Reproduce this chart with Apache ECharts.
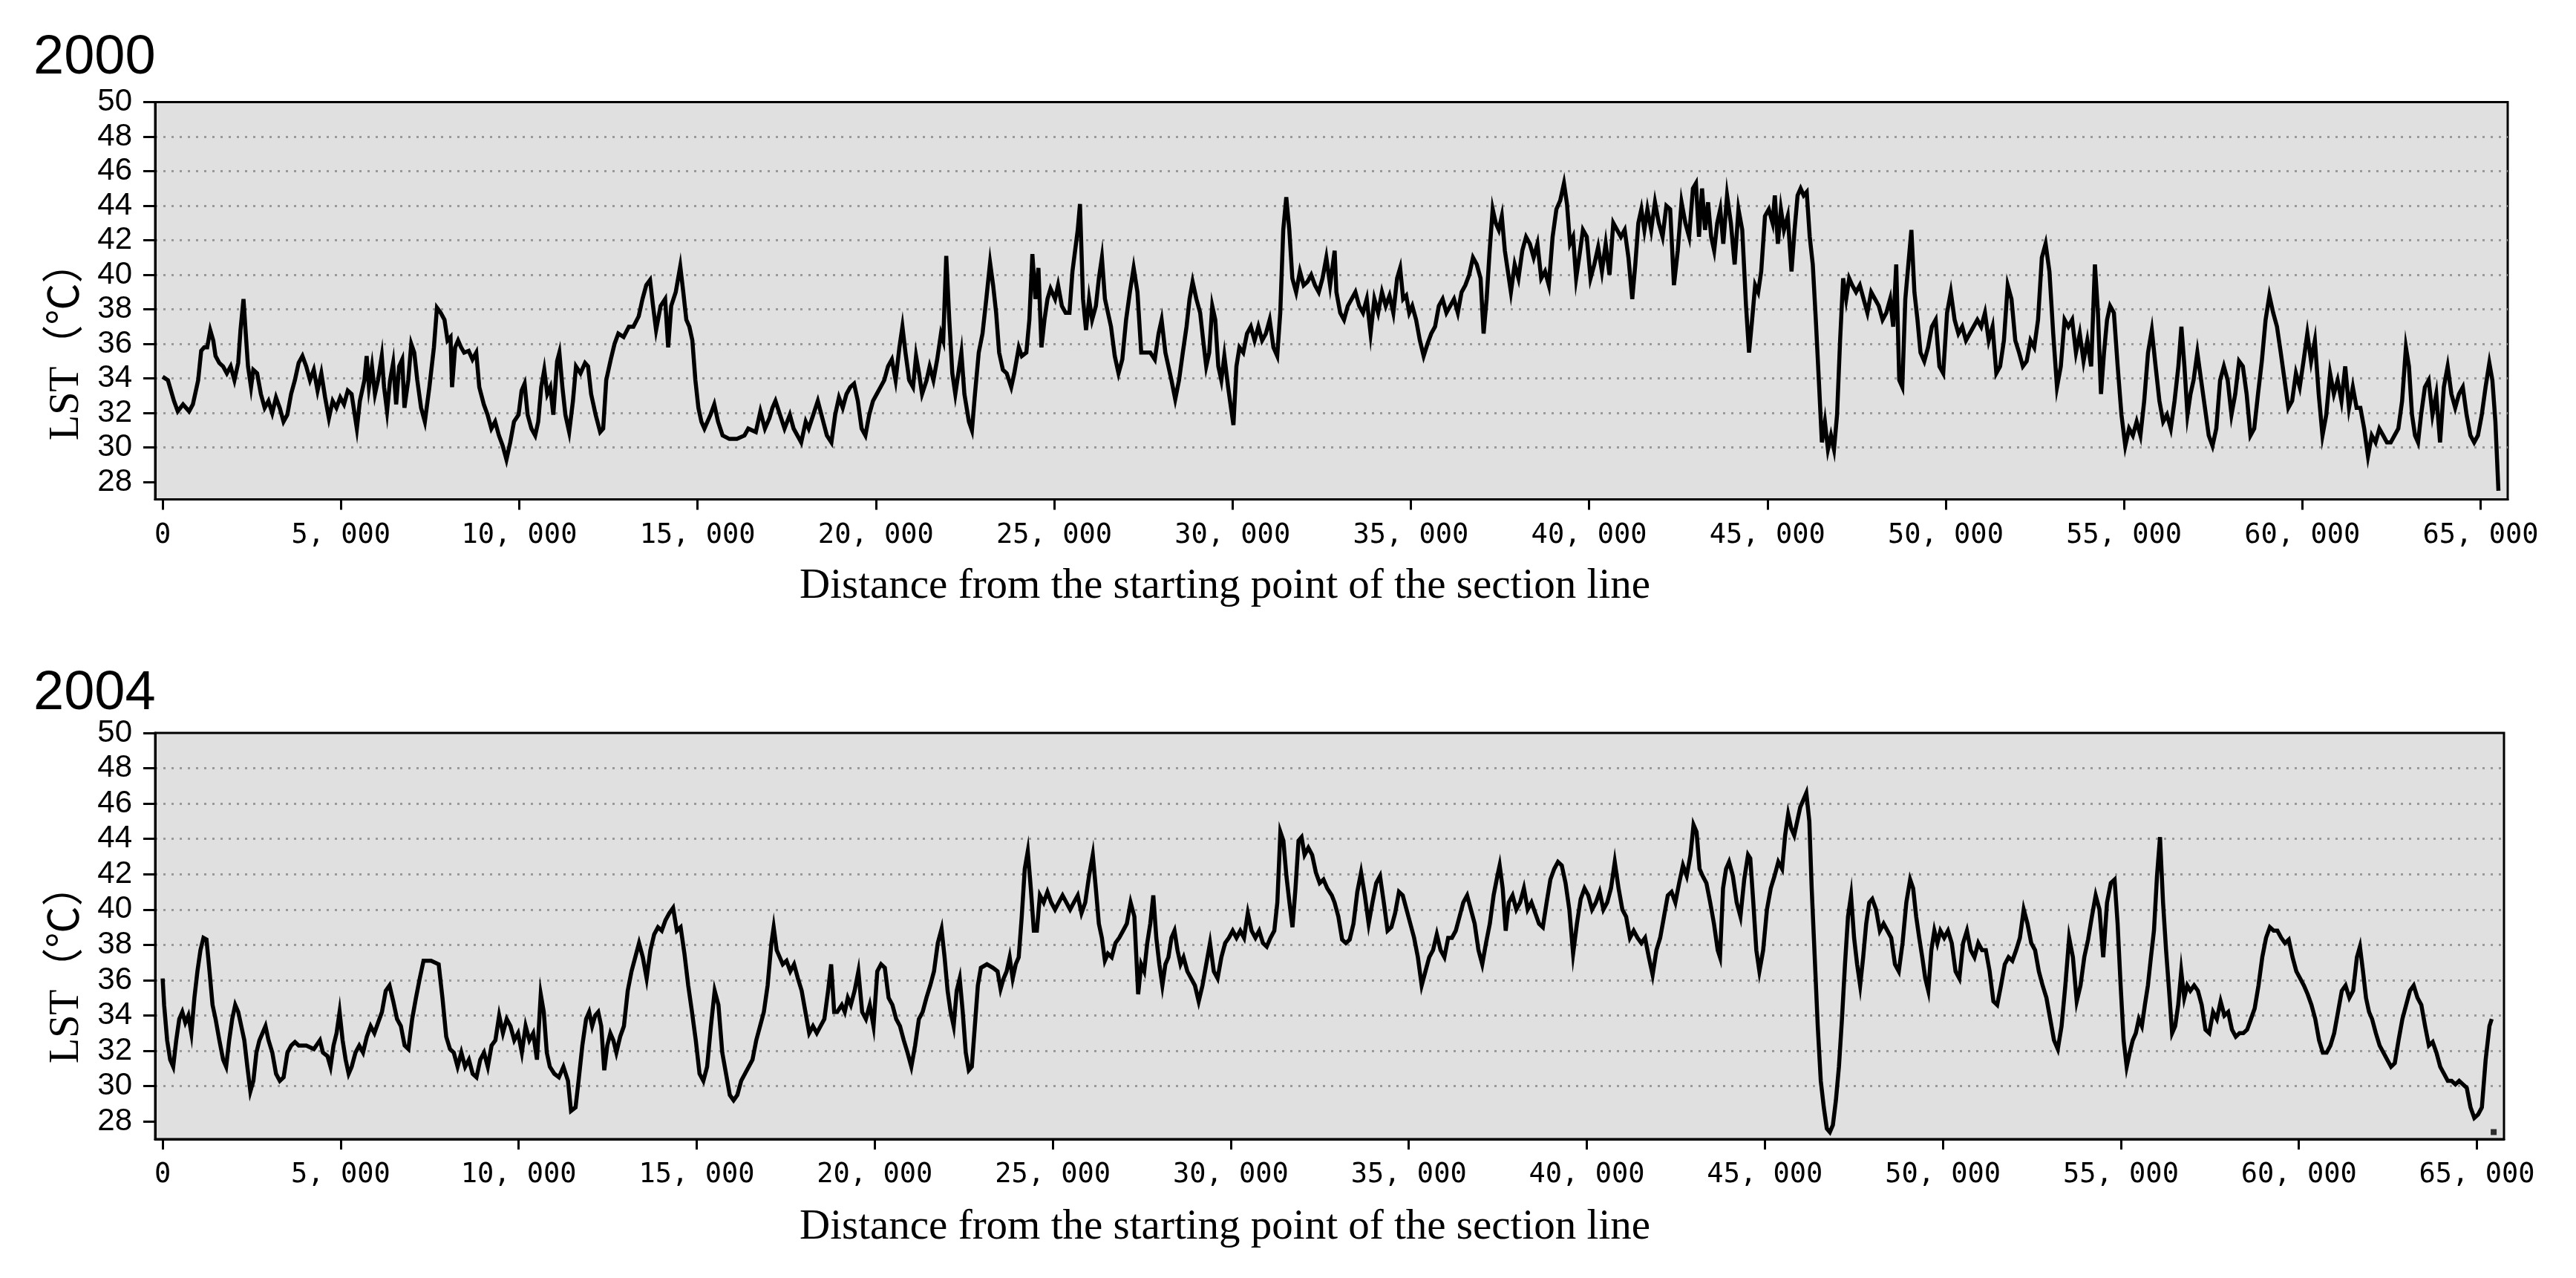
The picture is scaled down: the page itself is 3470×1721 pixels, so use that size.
<!DOCTYPE html>
<html>
<head>
<meta charset="utf-8">
<script src="https://cdn.jsdelivr.net/npm/echarts@6.0.0/dist/echarts.min.js"></script>
<style>
  html, body { margin: 0; padding: 0; background: #ffffff; }
  #chart { width: 3470px; height: 1721px; }
</style>
</head>
<body>
<div id="chart"></div>
<script>
// ---------- DATA ----------
const panelYears = ['2000', '2004'];
const xTicks = [0, 5000, 10000, 15000, 20000, 25000, 30000, 35000, 40000, 45000, 50000, 55000, 60000, 65000];
const yTicks = [28, 30, 32, 34, 36, 38, 40, 42, 44, 46, 48, 50];
const yTitle = 'LST\uFF08\u2103\uFF09';
const xTitle = 'Distance from the starting point of the section line';

// [distance (m), LST (°C)] read from the 2000 profile
const lst2000 = [
[0,34.1],[148,33.9],[318,32.7],[424,32.1],[572,32.5],[742,32.1],[848,32.5],[996,33.9],[1081,35.6],[1165,35.8],[1250,35.8],[1335,36.8],[1420,36.2],[1483,35.3],[1589,34.9],[1695,34.7],[1801,34.3],[1907,34.7],[2013,33.9],[2119,34.9],[2183,36.8],[2267,38.6],[2331,36.6],[2394,34.7],[2479,33.5],[2543,34.5],[2649,34.3],[2755,33.1],[2861,32.3],[2967,32.7],[3073,32.0],[3179,32.9],[3284,32.3],[3390,31.5],[3496,31.9],[3602,33.1],[3708,33.9],[3814,34.9],[3920,35.3],[4026,34.7],[4132,33.9],[4238,34.5],[4344,33.3],[4450,34.3],[4556,32.9],[4662,31.7],[4768,32.7],[4874,32.3],[4980,32.9],[5086,32.5],[5192,33.3],[5298,33.1],[5446,31.1],[5531,32.7],[5658,33.9],[5721,35.3],[5785,33.5],[5870,34.7],[5954,33.1],[6039,33.9],[6145,35.3],[6209,33.5],[6293,32.1],[6378,33.9],[6463,34.9],[6548,32.5],[6632,34.7],[6717,35.1],[6781,32.3],[6887,33.9],[6972,36.0],[7056,35.5],[7141,33.9],[7247,32.3],[7353,31.5],[7480,33.5],[7607,35.8],[7692,38.1],[7798,37.8],[7904,37.4],[7989,36.2],[8073,36.4],[8116,33.5],[8201,35.8],[8285,36.2],[8370,35.8],[8455,35.5],[8582,35.6],[8688,35.1],[8794,35.5],[8879,33.5],[9006,32.5],[9112,31.9],[9218,31.1],[9324,31.5],[9430,30.7],[9536,30.1],[9641,29.3],[9747,30.3],[9853,31.5],[9981,31.9],[10066,33.3],[10150,33.7],[10235,31.9],[10341,31.1],[10447,30.7],[10532,31.5],[10616,33.5],[10701,34.5],[10786,33.1],[10871,33.5],[10955,31.9],[11061,35.0],[11125,35.5],[11210,33.5],[11294,31.9],[11400,30.9],[11506,32.7],[11591,34.7],[11718,34.3],[11845,34.9],[11930,34.7],[12015,33.1],[12142,31.9],[12269,30.9],[12354,31.1],[12439,33.9],[12566,35.1],[12672,36.0],[12778,36.6],[12926,36.4],[13074,37.0],[13201,37.0],[13350,37.6],[13456,38.6],[13562,39.4],[13668,39.7],[13752,38.2],[13837,36.8],[13964,38.2],[14091,38.6],[14176,35.8],[14261,38.2],[14388,39.0],[14515,40.5],[14600,39.0],[14685,37.4],[14770,37.0],[14854,36.2],[14939,33.9],[15024,32.3],[15108,31.5],[15193,31.1],[15363,31.9],[15469,32.5],[15575,31.5],[15702,30.7],[15892,30.5],[16104,30.5],[16316,30.7],[16422,31.1],[16634,30.9],[16762,32.1],[16889,31.1],[17016,31.7],[17100,32.3],[17185,32.7],[17312,31.9],[17439,31.1],[17588,31.9],[17694,31.1],[17800,30.7],[17906,30.3],[18033,31.5],[18117,31.1],[18244,31.9],[18372,32.7],[18499,31.7],[18626,30.7],[18753,30.3],[18859,31.9],[18965,32.9],[19071,32.3],[19177,33.1],[19283,33.5],[19389,33.7],[19495,32.7],[19601,31.1],[19707,30.7],[19813,31.9],[19919,32.7],[20025,33.1],[20131,33.5],[20236,33.9],[20342,34.7],[20448,35.1],[20554,33.9],[20660,35.8],[20745,37.0],[20830,35.5],[20936,33.9],[21042,33.5],[21127,35.3],[21211,34.3],[21296,33.1],[21423,33.9],[21508,34.7],[21614,33.9],[21720,35.1],[21826,36.6],[21889,36.2],[21974,41.1],[22059,37.4],[22144,34.3],[22228,33.1],[22313,34.3],[22398,35.5],[22483,33.1],[22610,31.5],[22694,31.0],[22779,33.1],[22885,35.5],[22991,36.6],[23097,38.6],[23203,40.7],[23288,39.4],[23373,37.8],[23457,35.5],[23563,34.5],[23669,34.3],[23796,33.5],[23881,34.3],[24008,35.8],[24093,35.3],[24220,35.5],[24305,37.4],[24389,41.2],[24474,38.6],[24559,40.4],[24644,35.8],[24728,37.4],[24813,38.6],[24898,39.2],[25025,38.6],[25110,39.4],[25216,38.2],[25322,37.8],[25428,37.8],[25513,40.2],[25661,42.6],[25724,44.1],[25809,38.6],[25894,36.8],[25979,38.6],[26064,37.4],[26170,38.2],[26254,39.8],[26339,41.0],[26424,38.6],[26509,37.8],[26594,37.0],[26699,35.3],[26805,34.3],[26911,35.1],[27017,37.4],[27123,39.0],[27229,40.4],[27335,39.0],[27441,35.5],[27568,35.5],[27695,35.5],[27822,35.1],[27928,36.6],[28013,37.4],[28119,35.5],[28204,34.7],[28289,33.9],[28395,32.8],[28501,33.9],[28607,35.5],[28712,37.0],[28797,38.6],[28882,39.6],[28988,38.6],[29094,37.8],[29179,36.2],[29264,34.7],[29348,35.5],[29433,38.2],[29518,37.4],[29603,34.7],[29688,33.9],[29772,35.3],[29878,33.5],[30027,31.3],[30111,34.7],[30196,35.8],[30302,35.5],[30408,36.6],[30514,37.0],[30620,36.2],[30726,37.0],[30831,36.2],[30937,36.6],[31043,37.4],[31149,35.8],[31255,35.3],[31340,37.8],[31424,42.6],[31509,44.5],[31594,42.6],[31679,39.8],[31785,39.0],[31891,40.2],[31997,39.4],[32103,39.6],[32208,40.0],[32314,39.4],[32420,39.0],[32526,39.8],[32632,41.0],[32738,39.4],[32865,41.4],
[32915,39.0],[33022,37.8],[33128,37.4],[33234,38.2],[33341,38.6],[33447,39.0],[33554,38.2],[33660,37.8],[33766,38.6],[33873,36.6],[33979,38.6],[34085,37.8],[34192,39.0],[34298,38.2],[34404,38.8],[34511,37.8],[34617,39.8],[34702,40.4],[34787,38.6],[34872,38.8],[34957,37.8],[35042,38.2],[35149,37.4],[35255,36.2],[35361,35.3],[35468,36.0],[35574,36.6],[35681,37.0],[35787,38.2],[35893,38.6],[36000,37.8],[36106,38.2],[36212,38.6],[36319,37.8],[36425,39.0],[36531,39.4],[36638,40.0],[36744,41.0],[36850,40.6],[36957,39.8],[37042,36.6],[37127,38.6],[37212,41.4],[37297,43.8],[37383,43.0],[37468,42.6],[37553,43.4],[37638,41.4],[37723,40.2],[37808,39.0],[37914,40.6],[38020,39.8],[38127,41.4],[38233,42.2],[38339,41.8],[38446,41.0],[38552,41.8],[38658,39.8],[38765,40.2],[38871,39.4],[38977,42.2],[39084,43.8],[39190,44.3],[39296,45.3],[39381,44.1],[39466,41.8],[39552,42.2],[39637,39.8],[39722,41.0],[39828,42.6],[39935,42.2],[40041,39.8],[40147,40.6],[40254,41.6],[40360,40.2],[40466,41.8],[40573,40.0],[40679,43.0],[40785,42.6],[40892,42.2],[40998,42.6],[41104,41.0],[41211,38.6],[41296,40.6],[41381,43.0],[41466,43.8],[41551,42.6],[41636,43.8],[41742,42.6],[41848,44.2],[41955,43.0],[42061,42.2],[42168,44.0],[42274,43.8],[42380,39.4],[42487,41.4],[42593,44.2],[42700,43.0],[42806,42.2],[42912,45.0],[42997,45.3],[43082,42.2],[43167,45.0],[43252,42.6],[43337,44.2],[43423,42.2],[43508,41.4],[43593,43.0],[43678,43.8],[43763,41.8],[43869,44.6],[43976,43.0],[44082,40.6],[44189,43.8],[44295,42.6],[44401,38.2],[44486,35.5],[44572,37.4],[44657,39.4],[44742,39.0],[44827,40.2],[44933,43.4],[45040,43.8],[45146,43.0],[45209,44.6],[45294,41.8],[45379,43.8],[45465,42.6],[45571,43.4],[45677,40.2],[45762,42.6],[45847,44.6],[45932,45.0],[46018,44.6],[46103,44.8],[46188,42.2],[46273,40.6],[46358,37.4],[46443,33.9],[46528,30.3],[46613,31.5],[46698,29.9],[46783,30.7],[46868,29.9],[46954,31.9],[47039,36.2],[47124,39.8],[47209,38.6],[47294,39.8],[47379,39.4],[47486,39.0],[47592,39.4],[47698,38.6],[47805,37.8],[47911,39.0],[48017,38.6],[48124,38.2],[48230,37.4],[48336,37.8],[48443,38.6],[48528,37.0],[48613,40.6],[48698,33.9],[48783,33.5],[48868,38.6],[48953,40.6],[49038,42.6],[49123,39.0],[49209,37.4],[49294,35.5],[49400,35.0],[49506,35.8],[49612,37.0],[49719,37.4],[49825,34.7],[49931,34.3],[50038,37.8],[50144,39.0],[50250,37.4],[50357,36.6],[50463,37.0],[50569,36.2],[50676,36.6],[50782,37.0],[50888,37.4],[50995,37.0],[51101,37.8],[51207,36.2],[51314,37.0],[51420,34.3],[51526,34.7],[51633,36.2],[51739,39.4],[51845,38.6],[51952,36.2],[52058,35.5],[52164,34.7],[52271,35.0],[52377,36.2],[52483,35.8],[52590,37.4],[52696,41.0],[52802,41.8],[52909,40.2],[53015,36.6],[53121,33.5],[53228,34.7],[53334,37.4],[53440,37.0],[53547,37.4],[53653,35.5],[53760,36.6],[53866,35.0],[53972,36.2],[54079,34.7],[54185,40.6],[54270,37.8],[54355,33.1],[54440,35.5],[54525,37.4],[54610,38.2],[54717,37.8],[54823,34.7],[54929,31.9],[55036,30.1],[55142,31.1],[55248,30.7],[55355,31.5],[55461,30.7],[55567,32.7],[55674,35.5],[55780,36.8],[55887,34.7],[55993,32.7],[56099,31.5],[56206,31.9],[56312,31.1],[56418,32.7],[56525,34.7],[56610,37.0],[56695,34.7],[56780,31.9],[56865,33.1],[56951,33.9],[57057,35.5],[57163,33.9],[57270,32.3],[57376,30.7],[57482,30.1],[57589,31.1],[57695,33.9],[57801,34.7],[57908,33.9],[58014,31.9],[58120,33.1],[58227,35.0],[58333,34.7],[58439,33.1],[58546,30.7],[58652,31.1],[58758,33.1],[58865,35.0],[58971,37.4],[59077,38.8],[59184,37.8],[59290,37.0],[59396,35.5],[59503,33.9],[59609,32.3],[59715,32.7],[59822,34.3],[59928,33.5],[60034,35.0],[60141,36.6],[60247,35.0],[60353,36.2],[60460,33.1],[60566,30.7],[60672,31.9],[60779,34.3],[60885,33.1],[60991,33.9],[61098,32.7],[61204,34.7],[61310,32.3],[61417,33.5],[61523,32.3],[61629,32.3],[61736,31.1],[61842,29.5],[61948,30.7],[62055,30.3],[62161,31.1],[62268,30.7],[62374,30.3],[62480,30.3],[62587,30.7],[62693,31.1],[62799,32.7],[62906,35.8],[62991,34.7],[63076,31.9],[63161,30.7],[63246,30.3],[63331,31.9],[63438,33.5],[63544,33.9],[63650,31.9],[63757,33.1],[63863,30.3],[63969,33.5],[64076,34.7],[64182,33.1],[64288,32.3],[64395,33.1],[64501,33.5],[64607,31.9],[64714,30.7],[64820,30.3],[64926,30.7],[65033,31.9],[65139,33.5],[65245,34.9],[65330,33.9],[65415,31.5],[65500,27.5]
];

// [distance (m), LST (°C)] read from the 2004 profile
const lst2004 = [
[0,36.1],[42,34.6],[127,32.6],[212,31.5],[297,31.1],[382,32.6],[467,33.8],[552,34.2],[637,33.6],[722,34.0],[807,33.0],[892,35.0],[977,36.5],[1062,37.7],[1147,38.4],[1232,38.3],[1317,36.5],[1402,34.6],[1487,33.8],[1593,32.6],[1699,31.5],[1784,31.1],[1869,32.6],[1954,33.8],[2039,34.6],[2124,34.2],[2209,33.4],[2294,32.6],[2379,31.1],[2464,29.7],[2549,30.3],[2634,31.9],[2719,32.6],[2804,33.0],[2889,33.4],[2974,32.6],[3080,31.9],[3186,30.7],[3292,30.3],[3398,30.5],[3505,31.9],[3611,32.3],[3717,32.5],[3823,32.3],[4036,32.3],[4248,32.1],[4418,32.6],[4503,31.9],[4630,31.7],[4715,31.1],[4800,32.3],[4885,33.0],[4970,34.2],[5055,32.6],[5140,31.5],[5225,30.7],[5310,31.1],[5416,31.9],[5522,32.3],[5629,31.9],[5735,32.8],[5841,33.4],[5947,33.0],[6053,33.6],[6160,34.2],[6266,35.4],[6372,35.7],[6478,34.8],[6584,33.8],[6691,33.4],[6797,32.3],[6903,32.1],[7009,33.8],[7115,35.0],[7222,36.1],[7328,37.1],[7540,37.1],[7753,36.9],[7859,35.0],[7965,32.8],[8071,32.1],[8177,31.9],[8284,31.1],[8390,31.9],[8496,31.1],[8602,31.5],[8708,30.7],[8815,30.5],[8921,31.5],[9027,31.9],[9133,31.1],[9239,32.3],[9346,32.6],[9452,34.0],[9558,33.0],[9664,33.8],[9770,33.4],[9876,32.6],[9983,33.0],[10089,31.9],[10195,33.4],[10301,32.6],[10408,33.0],[10514,31.5],[10620,35.2],[10705,34.2],[10790,31.9],[10875,31.1],[11002,30.7],[11130,30.5],[11257,31.1],[11385,30.3],[11470,28.6],[11597,28.8],[11682,30.3],[11788,32.3],[11894,33.8],[11979,34.2],[12064,33.4],[12149,34.0],[12234,34.2],[12319,33.4],[12404,30.9],[12489,32.3],[12574,33.0],[12659,32.6],[12744,31.9],[12850,32.8],[12956,33.4],[13063,35.4],[13169,36.5],[13275,37.3],[13381,38.1],[13487,37.3],[13594,36.1],[13700,37.7],[13806,38.6],[13912,39.0],[14018,38.8],[14124,39.4],[14231,39.8],[14337,40.1],[14443,38.8],[14549,39.0],[14656,37.5],[14762,35.7],[14868,34.2],[14974,32.6],[15080,30.7],[15187,30.3],[15293,31.1],[15399,33.4],[15505,35.4],[15611,34.6],[15718,31.9],[15824,30.7],[15930,29.5],[16036,29.2],[16142,29.5],[16249,30.3],[16355,30.7],[16461,31.1],[16567,31.5],[16673,32.6],[16780,33.4],[16886,34.2],[16992,35.7],[17098,38.1],[17162,39.0],[17247,37.7],[17332,37.3],[17417,36.9],[17523,37.1],[17629,36.5],[17735,36.9],[17842,36.1],[17948,35.4],[18054,34.2],[18160,33.0],[18266,33.4],[18373,33.0],[18479,33.4],[18585,33.8],[18691,35.4],[18776,36.9],[18861,34.2],[18946,34.2],[19074,34.6],[19159,34.2],[19244,35.0],[19329,34.6],[19435,35.4],[19541,36.5],[19647,34.2],[19753,33.8],[19860,34.6],[19966,33.4],[20072,36.5],[20178,36.9],[20284,36.7],[20390,35.0],[20497,34.6],[20603,33.8],[20709,33.4],[20815,32.6],[20921,31.9],[21028,31.1],[21134,32.3],[21240,33.8],[21346,34.2],[21452,35.0],[21559,35.7],[21665,36.5],[21771,38.1],[21877,38.9],[21962,37.3],[22047,35.4],[22132,34.2],[22217,33.4],[22302,35.4],[22387,36.1],[22472,34.2],[22557,31.9],[22642,30.9],[22727,31.1],[22812,33.4],[22897,35.7],[22982,36.7],[23152,36.9],[23322,36.7],[23450,36.5],[23535,35.5],[23620,36.1],[23705,36.5],[23790,37.3],[23875,36.1],[23960,36.9],[24044,37.3],[24129,39.6],[24214,42.3],[24299,43.3],[24384,41.2],[24469,38.8],[24554,38.8],[24639,40.8],[24745,40.4],[24851,41.0],[24958,40.4],[25064,40.0],[25170,40.4],[25276,40.8],[25382,40.4],[25488,40.0],[25594,40.4],[25701,40.8],[25807,39.8],[25913,40.4],[26019,41.9],[26125,43.1],[26210,41.2],[26295,39.2],[26380,38.4],[26465,37.1],[26550,37.5],[26656,37.3],[26762,38.1],[26868,38.4],[26975,38.8],[27081,39.2],[27187,40.4],[27293,39.6],[27399,35.2],[27484,36.9],[27569,36.5],[27654,38.1],[27739,39.2],[27824,40.8],[27909,38.4],[27994,36.9],[28079,35.7],[28164,36.9],[28249,37.3],[28334,38.4],[28419,38.8],[28504,37.7],[28589,36.9],[28674,37.3],[28780,36.5],[28886,36.1],[28993,35.7],[29099,34.8],[29205,35.7],[29311,36.9],[29417,38.1],[29524,36.5],[29630,36.1],[29736,37.3],[29842,38.1],[29948,38.4],[30054,38.8],[30161,38.4],[30267,38.8],[30373,38.4],[30479,39.8],[30585,38.8],[30692,38.4],[30798,38.8],[30904,38.1],[31010,37.9],[31116,38.4],[31223,38.8],[31308,40.4],[31393,44.4],[31478,43.9],[31563,41.9],[31648,40.4],[31733,39.0],[31818,41.2],[31903,43.9],[31988,44.1],[32073,43.1],[32179,43.5],[32285,43.1],[32391,42.1],[32497,41.5],[32604,41.7],[32710,41.2],[32837,40.8],
[32915,40.4],[33022,39.6],[33128,38.3],[33234,38.1],[33341,38.3],[33447,39.2],[33554,41.0],[33660,42.1],[33766,40.8],[33873,39.2],[33979,40.4],[34085,41.5],[34192,41.9],[34298,40.4],[34404,38.8],[34511,39.0],[34617,39.8],[34724,41.0],[34830,40.8],[34936,40.0],[35043,39.2],[35149,38.4],[35255,37.3],[35362,35.7],[35468,36.5],[35574,37.3],[35681,37.7],[35787,38.6],[35893,37.7],[36000,37.3],[36106,38.4],[36212,38.4],[36319,38.8],[36425,39.6],[36531,40.4],[36638,40.8],[36744,40.0],[36850,39.2],[36957,37.7],[37063,36.9],[37169,38.1],[37276,39.2],[37382,40.8],[37488,41.9],[37552,42.5],[37637,41.2],[37722,38.8],[37808,40.4],[37914,40.8],[38020,40.0],[38127,40.4],[38233,41.2],[38339,40.0],[38446,40.4],[38552,39.8],[38658,39.2],[38765,39.0],[38871,40.4],[38977,41.7],[39084,42.3],[39190,42.7],[39296,42.5],[39403,41.5],[39509,40.0],[39615,37.5],[39722,39.2],[39828,40.6],[39935,41.2],[40041,40.8],[40147,40.0],[40254,40.4],[40360,41.0],[40466,40.0],[40573,40.4],[40679,41.2],[40785,42.7],[40892,41.2],[40998,40.0],[41104,39.6],[41211,38.4],[41317,38.8],[41423,38.4],[41530,38.1],[41636,38.4],[41742,37.3],[41848,36.3],[41955,37.7],[42061,38.4],[42168,39.6],[42274,40.8],[42380,41.0],[42487,40.4],[42593,41.5],[42700,42.5],[42806,41.9],[42912,43.1],[42997,44.8],[43082,44.4],[43167,42.3],[43253,41.9],[43359,41.5],[43465,40.4],[43571,39.2],[43677,37.7],[43741,37.3],[43826,41.2],[43911,42.3],[43996,42.7],[44102,41.9],[44209,40.4],[44315,39.6],[44421,41.7],[44528,43.1],[44591,42.9],[44676,40.4],[44761,37.7],[44847,36.5],[44953,37.7],[45059,40.0],[45166,41.2],[45272,41.9],[45378,42.7],[45485,42.3],[45570,44.2],[45655,45.4],[45740,44.6],[45825,44.2],[45910,45.0],[45995,45.8],[46080,46.2],[46165,46.6],[46250,45.0],[46316,41.2],[46401,37.3],[46486,33.4],[46571,30.3],[46656,28.8],[46741,27.6],[46826,27.4],[46911,27.8],[46996,29.2],[47081,31.1],[47166,33.8],[47251,36.9],[47336,39.6],[47422,40.8],[47507,38.4],[47592,36.9],[47677,35.7],[47762,37.3],[47847,39.2],[47932,40.4],[48017,40.6],[48124,40.0],[48230,38.8],[48336,39.2],[48443,38.8],[48549,38.4],[48655,36.9],[48762,36.5],[48868,38.1],[48974,40.4],[49081,41.7],[49166,41.2],[49251,39.6],[49336,38.4],[49421,37.3],[49506,36.1],[49591,35.4],[49676,37.7],[49761,38.8],[49846,38.1],[49931,38.8],[50038,38.4],[50144,38.8],[50250,38.1],[50357,36.5],[50463,36.1],[50569,38.1],[50676,38.8],[50782,37.7],[50888,37.3],[50995,38.1],[51101,37.7],[51207,37.7],[51314,36.5],[51420,34.8],[51526,34.6],[51633,35.7],[51739,36.9],[51845,37.3],[51952,37.1],[52058,37.7],[52164,38.4],[52271,40.0],[52377,39.2],[52483,38.1],[52590,37.7],[52696,36.5],[52802,35.7],[52909,35.0],[53015,33.8],[53121,32.6],[53228,32.1],[53334,33.4],[53440,35.7],[53547,38.4],[53653,37.3],[53760,34.8],[53866,35.7],[53972,37.3],[54079,38.3],[54185,39.6],[54292,40.8],[54398,40.0],[54504,37.3],[54611,40.4],[54717,41.5],[54823,41.7],[54908,39.2],[54993,35.7],[55078,32.6],[55163,31.1],[55248,31.9],[55333,32.6],[55419,33.0],[55504,33.8],[55589,33.4],[55674,34.6],[55759,35.7],[55844,37.3],[55929,38.8],[56014,41.9],[56099,44.1],[56184,40.4],[56269,37.7],[56354,35.4],[56439,33.0],[56525,33.4],[56610,34.6],[56695,36.5],[56780,35.0],[56865,35.7],[56951,35.4],[57057,35.7],[57163,35.4],[57270,34.6],[57376,33.2],[57482,33.0],[57589,34.2],[57695,33.8],[57801,34.8],[57908,34.0],[58014,34.2],[58120,33.2],[58227,32.8],[58333,33.0],[58439,33.0],[58546,33.2],[58652,33.8],[58758,34.4],[58865,35.7],[58971,37.3],[59077,38.4],[59184,39.0],[59290,38.8],[59396,38.8],[59503,38.4],[59609,38.1],[59715,38.3],[59822,37.3],[59928,36.5],[60034,36.1],[60141,35.7],[60247,35.2],[60353,34.6],[60460,33.8],[60566,32.6],[60672,31.9],[60779,31.9],[60885,32.3],[60991,33.0],[61098,34.2],[61204,35.4],[61310,35.7],[61417,35.0],[61523,35.4],[61629,37.3],[61714,37.9],[61800,36.5],[61885,35.0],[61970,34.2],[62055,33.8],[62161,33.0],[62268,32.3],[62374,31.9],[62480,31.5],[62587,31.1],[62693,31.3],[62799,32.6],[62906,33.8],[63012,34.6],[63118,35.4],[63224,35.7],[63331,35.0],[63438,34.6],[63544,33.4],[63650,32.3],[63757,32.5],[63863,31.9],[63969,31.1],[64076,30.7],[64182,30.3],[64288,30.3],[64395,30.1],[64501,30.3],[64607,30.1],[64714,29.9],[64820,28.8],[64926,28.2],[65033,28.4],[65139,28.8],[65245,31.5],[65352,33.4],[65415,33.8]
];
// isolated end point on the 2004 profile
const dot2004 = [[65470, 27.4]];

// ---------- CHART ----------
const chart = echarts.init(document.getElementById('chart'), null, { renderer: 'canvas' });

function fmtX(v) {
  return v === 0 ? '0' : v.toLocaleString('en-US').replace(',', ', ');
}

const grids = [
  { left: 209, top: 137.5, width: 3169, height: 535 },
  { left: 209, top: 987, width: 3164, height: 547 }
];

function makeX(i) {
  return {
    type: 'value', gridIndex: i, min: -210, max: 65760,
    axisLine: { show: true, onZero: false, lineStyle: { color: '#000', width: 3 } },
    axisTick: { show: true, inside: false, length: 14, customValues: xTicks, lineStyle: { color: '#000', width: 3 } },
    axisLabel: { show: true, customValues: xTicks, formatter: fmtX, color: '#000',
                 fontFamily: 'DejaVu Sans Mono', fontSize: 37, margin: 30 },
    splitLine: { show: false }
  };
}
function makeY(i) {
  return {
    type: 'value', gridIndex: i, min: 27, max: 50,
    axisLine: { show: true, onZero: false, lineStyle: { color: '#000', width: 3 } },
    axisTick: { show: true, inside: false, length: 16, customValues: yTicks, lineStyle: { color: '#000', width: 3 } },
    axisLabel: { show: true, customValues: yTicks, color: '#000',
                 fontFamily: 'Liberation Sans', fontSize: 42, margin: 31 },
    splitLine: { show: true, showMaxLine: false, showMinLine: false,
                 lineStyle: { color: '#999999', width: 3, type: [3, 8] } }
  };
}

const lineStyle = { color: '#000', width: 5.5, join: 'miter' };

const graphics = [];
const yearTop = [42, 898];
const yTitleBase = [593, 1432];
const xTitleY = [790, 1653];
panelYears.forEach((yr, i) => {
  graphics.push({ type: 'text', left: 45, top: yearTop[i], silent: true,
    style: { text: yr, fill: '#000', font: '74px "Liberation Sans", Arial, sans-serif' } });
  graphics.push({ type: 'text', x: 90, y: yTitleBase[i], rotation: Math.PI / 2, silent: true,
    style: { text: yTitle, fill: '#000', align: 'left', verticalAlign: 'middle',
             font: '56px "Liberation Serif", "Noto Sans CJK SC", serif' } });
  graphics.push({ type: 'text', x: 1650, y: xTitleY[i], silent: true,
    style: { text: xTitle, fill: '#000', align: 'center', verticalAlign: 'middle',
             font: '57px "Liberation Serif", "Times New Roman", serif' } });
});

chart.setOption({
  animation: false,
  backgroundColor: '#ffffff',
  grid: grids.map(g => Object.assign({ show: true, backgroundColor: '#e0e0e0', borderColor: '#000', borderWidth: 3 }, g)),
  xAxis: [makeX(0), makeX(1)],
  yAxis: [makeY(0), makeY(1)],
  graphic: graphics,
  series: [
    { name: panelYears[0], type: 'line', xAxisIndex: 0, yAxisIndex: 0, data: lst2000,
      showSymbol: false, symbol: 'none', lineStyle: lineStyle, clip: true },
    { name: panelYears[1], type: 'line', xAxisIndex: 1, yAxisIndex: 1, data: lst2004,
      showSymbol: false, symbol: 'none', lineStyle: lineStyle, clip: true },
    { name: panelYears[1] + ' end', type: 'scatter', xAxisIndex: 1, yAxisIndex: 1, data: dot2004,
      symbol: 'rect', symbolSize: 8, itemStyle: { color: '#000' } }
  ]
});
</script>
</body>
</html>
